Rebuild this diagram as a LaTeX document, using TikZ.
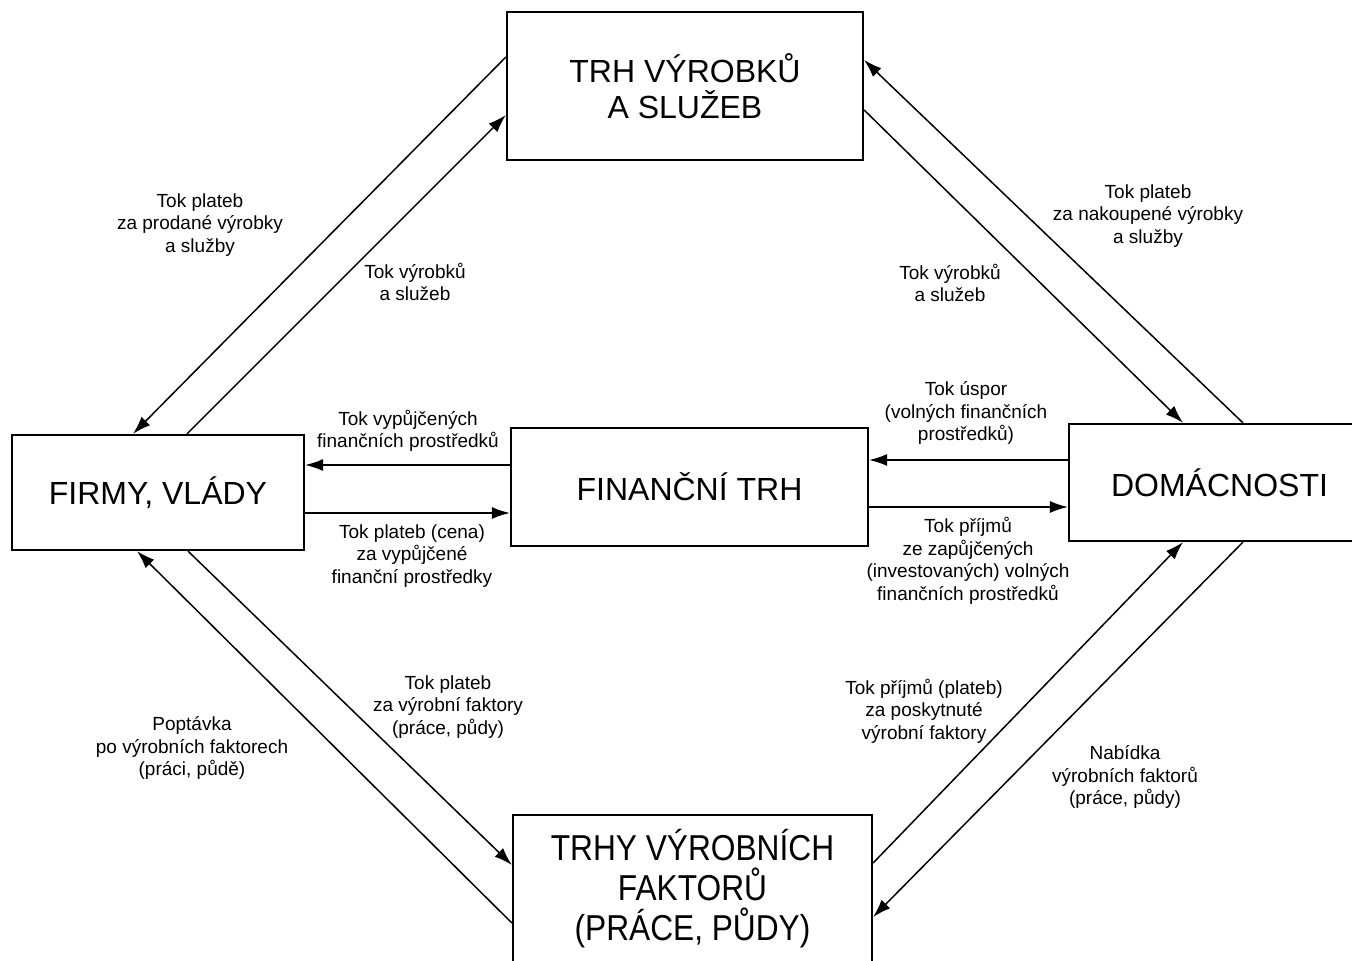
\documentclass[tikz,border=0pt]{standalone}
\usepackage{fontspec}
\setmainfont{Liberation Sans}
\newfontfamily\narrowsans[FakeStretch=0.88]{Liberation Sans}
\usetikzlibrary{arrows.meta}

\begin{document}
\begin{tikzpicture}[x=0.5pt, y=-0.5pt, >={Latex[length=9pt,width=6pt]}, line width=0.75pt,
  box/.style={draw, line width=1.1pt, inner sep=0pt, align=center, font=\fontsize{16}{18}\selectfont},
  lbl/.style={align=center, font=\fontsize{9.5}{11.3}\selectfont}]
  \useasboundingbox (0,0) rectangle (1352,961);
  % markets and sectors
  \node[box, minimum width=178pt, minimum height=74pt] (trh) at (685,86) {TRH VÝROBKŮ\\A SLUŽEB};
  \node[box, minimum width=146pt, minimum height=57.5pt] (firmy) at (158,492.5) {FIRMY, VLÁDY};
  \node[box, minimum width=178.5pt, minimum height=59pt] (fin) at (689.5,487) {FINANČNÍ TRH};
  \node[box, minimum width=150.5pt, minimum height=58.5pt] (dom) at (1219.5,482.5) {DOMÁCNOSTI};
  \node[box, minimum width=179.5pt, minimum height=73.5pt, font=\narrowsans\fontsize{18}{20}\selectfont]
    (fakt) at (692.5,888.5) {TRHY VÝROBNÍCH\\FAKTORŮ\\(PRÁCE, PŮDY)};
  % flows
  \draw[->] (trh.west |- 0,57) -- (firmy.north -| 133,0);
  \draw[->] (firmy.north -| 187,0) -- (trh.west |- 0,115);
  \draw[->] (dom.north -| 1243,0) -- (trh.east |- 0,60);
  \draw[->] (trh.east |- 0,110) -- (dom.north -| 1183,0);
  \draw[->] (fakt.west |- 0,923) -- (firmy.south -| 137,0);
  \draw[->] (firmy.south -| 188,0) -- (fakt.west |- 0,865);
  \draw[->] (fakt.east |- 0,863) -- (dom.south -| 1183,0);
  \draw[->] (dom.south -| 1243,0) -- (fakt.east |- 0,917);
  \draw[->] (fin.west |- 0,465) -- (firmy.east |- 0,465);
  \draw[->] (firmy.east |- 0,513) -- (fin.west |- 0,513);
  \draw[->] (dom.west |- 0,460) -- (fin.east |- 0,460);
  \draw[->] (fin.east |- 0,507) -- (dom.west |- 0,507);
  % labels
  \node[lbl] (l1) at (200,225) {Tok plateb\\za prodané výrobky\\a služby};
  \node[lbl] (l2) at (415,282) {Tok výrobků\\a služeb};
  \node[lbl] (l3) at (1148,216) {Tok plateb\\za nakoupené výrobky\\a služby};
  \node[lbl] (l4) at (950,283) {Tok výrobků\\a služeb};
  \node[lbl] (l5) at (408,431) {Tok vypůjčených\\finančních prostředků};
  \node[lbl] (l6) at (412,556) {Tok plateb (cena)\\za vypůjčené\\finanční prostředky};
  \node[lbl] (l7) at (966,413) {Tok úspor\\(volných finančních\\prostředků)};
  \node[lbl] (l8) at (968,561) {Tok příjmů\\ze zapůjčených\\(investovaných) volných\\finančních prostředků};
  \node[lbl] (l9) at (448,707) {Tok plateb\\za výrobní faktory\\(práce, půdy)};
  \node[lbl] (l10) at (192,748) {Poptávka\\po výrobních faktorech\\(práci, půdě)};
  \node[lbl] (l11) at (924,711) {Tok příjmů (plateb)\\za poskytnuté\\výrobní faktory};
  \node[lbl] (l12) at (1125,777) {Nabídka\\výrobních faktorů\\(práce, půdy)};
\end{tikzpicture}
\end{document}
